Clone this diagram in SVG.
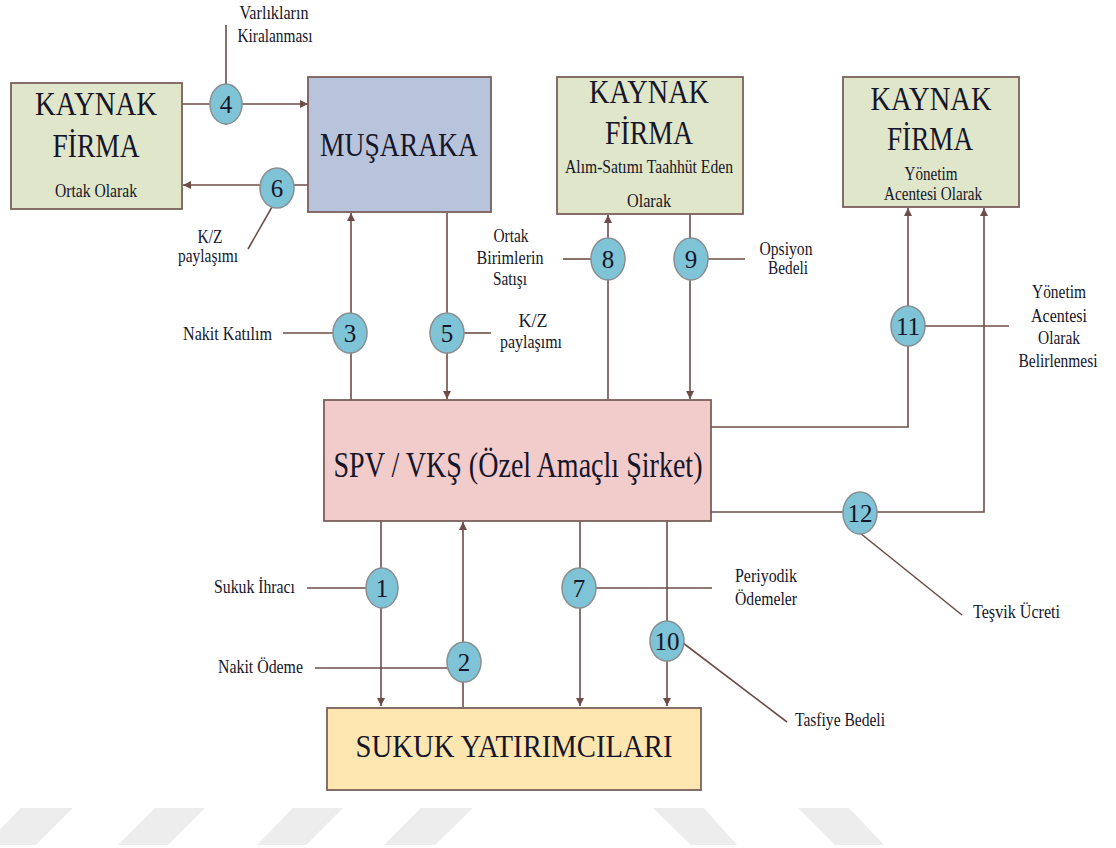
<svg xmlns="http://www.w3.org/2000/svg" width="1116" height="848" viewBox="0 0 1116 848">
<defs>
<marker id="arr" markerUnits="userSpaceOnUse" markerWidth="9" markerHeight="8" refX="8" refY="4" orient="auto">
<path d="M0,0 L8,4 L0,8 z" fill="#6e4d48"/>
</marker>
<style>
.box{stroke:#7a605b;stroke-width:1.8}
.green{fill:#dfe6c9}
.blue{fill:#b8c4dc}
.pink{fill:#f2cbcb}
.yellow{fill:#fde6b0}
.t{font-family:"Liberation Serif","Times New Roman",serif;fill:#16162a;text-anchor:middle}
.big{font-size:34px}
.sub{font-size:18px}
.lbl{font-family:"Liberation Serif","Times New Roman",serif;fill:#16162a;font-size:18px}
.mid{text-anchor:middle}
.ln{stroke:#6e4d48;stroke-width:1.6;fill:none}
.arr{marker-end:url(#arr)}
.num ellipse{fill:#7ec4d6;stroke:#888e92;stroke-width:1.5}
.num text{font-family:"Liberation Serif","Times New Roman",serif;font-size:25px;fill:#16162a;text-anchor:middle}
.wm{fill:#ededed}
</style>
</defs>
<rect width="1116" height="848" fill="#ffffff"/>

<g id="watermark">
<polygon class="wm" points="21,808 73,808 36,845 -15,845"/>
<polygon class="wm" points="155,808 205,808 168,845 118,845"/>
<polygon class="wm" points="293,808 343,808 306,845 257,845"/>
<polygon class="wm" points="421,808 473,808 435,845 384,845"/>
<polygon class="wm" points="653,808 704,808 737,845 691,845"/>
<polygon class="wm" points="798,808 849,808 884,845 835,845"/>
</g>

<g id="connectors">
<path class="ln arr" d="M182,104 H308"/>
<path class="ln" d="M226,25 V125"/>
<path class="ln arr" d="M308,185 H183"/>
<path class="ln" d="M272,207 L248,249"/>
<path class="ln arr" d="M351,400 V213"/>
<path class="ln" d="M283,333 H335"/>
<path class="ln arr" d="M447,213 V399"/>
<path class="ln" d="M460,333 H491"/>
<path class="ln arr" d="M608,400 V215"/>
<path class="ln" d="M563,259 H592"/>
<path class="ln arr" d="M690,214 V399"/>
<path class="ln" d="M706,259 H745"/>
<path class="ln arr" d="M711,427 H908 V208"/>
<path class="ln" d="M922,326 H1009"/>
<path class="ln arr" d="M711,512 H984 V208"/>
<path class="ln" d="M860,533 L962,615"/>
<path class="ln arr" d="M381,521 V706"/>
<path class="ln" d="M307,588 H368"/>
<path class="ln arr" d="M463,707 V522"/>
<path class="ln" d="M315,668 H450"/>
<path class="ln arr" d="M580,521 V706"/>
<path class="ln" d="M594,588 H712"/>
<path class="ln arr" d="M667,521 V706"/>
<path class="ln" d="M683,643 L787,722"/>
</g>

<g id="kaynak-firma-ortak">
<rect class="box green" x="11" y="83" width="171" height="126"/>
<text class="t big" x="96" y="115" textLength="122" lengthAdjust="spacingAndGlyphs">KAYNAK</text>
<text class="t big" x="96" y="157" textLength="87" lengthAdjust="spacingAndGlyphs">FİRMA</text>
<text class="t sub" x="96" y="197" textLength="82" lengthAdjust="spacingAndGlyphs">Ortak Olarak</text>
</g>

<g id="musaraka">
<rect class="box blue" x="308" y="77" width="183" height="135"/>
<text class="t big" x="399" y="156" textLength="158" lengthAdjust="spacingAndGlyphs">MUŞARAKA</text>
</g>

<g id="kaynak-firma-alim-satim">
<rect class="box green" x="557" y="77" width="186" height="137"/>
<text class="t big" x="649" y="103" textLength="120" lengthAdjust="spacingAndGlyphs">KAYNAK</text>
<text class="t big" x="649" y="144" textLength="88" lengthAdjust="spacingAndGlyphs">FİRMA</text>
<text class="t sub" x="649" y="173" textLength="168" lengthAdjust="spacingAndGlyphs">Alım-Satımı Taahhüt Eden</text>
<text class="t sub" x="649" y="207" textLength="44" lengthAdjust="spacingAndGlyphs">Olarak</text>
</g>

<g id="kaynak-firma-yonetim">
<rect class="box green" x="843" y="77" width="176" height="130"/>
<text class="t big" x="931" y="110" textLength="121" lengthAdjust="spacingAndGlyphs">KAYNAK</text>
<text class="t big" x="930" y="150" textLength="86" lengthAdjust="spacingAndGlyphs">FİRMA</text>
<text class="t sub" x="931" y="180" textLength="53" lengthAdjust="spacingAndGlyphs">Yönetim</text>
<text class="t sub" x="933" y="200" textLength="98" lengthAdjust="spacingAndGlyphs">Acentesi Olarak</text>
</g>

<g id="spv">
<rect class="box pink" x="324" y="400" width="387" height="121"/>
<text class="t" style="font-size:36px" x="518" y="477" textLength="369" lengthAdjust="spacingAndGlyphs">SPV / VKŞ (Özel Amaçlı Şirket)</text>
</g>

<g id="sukuk-yatirimcilari">
<rect class="box yellow" x="327" y="708" width="374" height="82"/>
<text class="t" style="font-size:31px" x="514" y="757" textLength="317" lengthAdjust="spacingAndGlyphs">SUKUK YATIRIMCILARI</text>
</g>

<g id="labels">
<text class="lbl mid" x="274" y="19" textLength="69" lengthAdjust="spacingAndGlyphs">Varlıkların</text>
<text class="lbl mid" x="275" y="42" textLength="75" lengthAdjust="spacingAndGlyphs">Kiralanması</text>
<text class="lbl mid" x="210" y="243" textLength="25" lengthAdjust="spacingAndGlyphs">K/Z</text>
<text class="lbl mid" x="208" y="262" textLength="60" lengthAdjust="spacingAndGlyphs">paylaşımı</text>
<text class="lbl" x="183" y="340" textLength="89" lengthAdjust="spacingAndGlyphs">Nakit Katılım</text>
<text class="lbl mid" x="533" y="327" textLength="29" lengthAdjust="spacingAndGlyphs">K/Z</text>
<text class="lbl mid" x="531" y="348" textLength="62" lengthAdjust="spacingAndGlyphs">paylaşımı</text>
<text class="lbl mid" x="511" y="242" textLength="35" lengthAdjust="spacingAndGlyphs">Ortak</text>
<text class="lbl mid" x="510" y="264" textLength="67" lengthAdjust="spacingAndGlyphs">Birimlerin</text>
<text class="lbl mid" x="510" y="285" textLength="34" lengthAdjust="spacingAndGlyphs">Satışı</text>
<text class="lbl mid" x="786" y="255" textLength="53" lengthAdjust="spacingAndGlyphs">Opsiyon</text>
<text class="lbl mid" x="788" y="274" textLength="40" lengthAdjust="spacingAndGlyphs">Bedeli</text>
<text class="lbl mid" x="1059" y="298" textLength="54" lengthAdjust="spacingAndGlyphs">Yönetim</text>
<text class="lbl mid" x="1059" y="322" textLength="56" lengthAdjust="spacingAndGlyphs">Acentesi</text>
<text class="lbl mid" x="1059" y="344" textLength="42" lengthAdjust="spacingAndGlyphs">Olarak</text>
<text class="lbl mid" x="1058" y="367" textLength="79" lengthAdjust="spacingAndGlyphs">Belirlenmesi</text>
<text class="lbl" x="973" y="618" textLength="87" lengthAdjust="spacingAndGlyphs">Teşvik Ücreti</text>
<text class="lbl" x="735" y="582" textLength="62" lengthAdjust="spacingAndGlyphs">Periyodik</text>
<text class="lbl" x="735" y="605" textLength="62" lengthAdjust="spacingAndGlyphs">Ödemeler</text>
<text class="lbl" x="214" y="593" textLength="81" lengthAdjust="spacingAndGlyphs">Sukuk İhracı</text>
<text class="lbl" x="218" y="673" textLength="85" lengthAdjust="spacingAndGlyphs">Nakit Ödeme</text>
<text class="lbl" x="795" y="726" textLength="90" lengthAdjust="spacingAndGlyphs">Tasfiye Bedeli</text>
</g>

<g id="step-4" class="num"><ellipse cx="226" cy="104" rx="16" ry="20"/><text x="226" y="113">4</text></g>
<g id="step-6" class="num"><ellipse cx="277" cy="188" rx="17" ry="20"/><text x="277" y="197">6</text></g>
<g id="step-3" class="num"><ellipse cx="350" cy="333" rx="17" ry="20"/><text x="350" y="342">3</text></g>
<g id="step-5" class="num"><ellipse cx="447" cy="333" rx="17" ry="20"/><text x="447" y="342">5</text></g>
<g id="step-8" class="num"><ellipse cx="608" cy="259" rx="17" ry="21"/><text x="608" y="268">8</text></g>
<g id="step-9" class="num"><ellipse cx="691" cy="259" rx="17" ry="21"/><text x="691" y="268">9</text></g>
<g id="step-11" class="num"><ellipse cx="908" cy="326" rx="17" ry="20"/><text x="908" y="335">11</text></g>
<g id="step-12" class="num"><ellipse cx="860" cy="513" rx="17" ry="21"/><text x="860" y="522">12</text></g>
<g id="step-1" class="num"><ellipse cx="382" cy="588" rx="16" ry="20"/><text x="382" y="597">1</text></g>
<g id="step-2" class="num"><ellipse cx="464" cy="662" rx="17" ry="20"/><text x="464" y="671">2</text></g>
<g id="step-7" class="num"><ellipse cx="579" cy="588" rx="17" ry="20"/><text x="579" y="597">7</text></g>
<g id="step-10" class="num"><ellipse cx="667" cy="641" rx="17" ry="20"/><text x="667" y="650">10</text></g>
</svg>
